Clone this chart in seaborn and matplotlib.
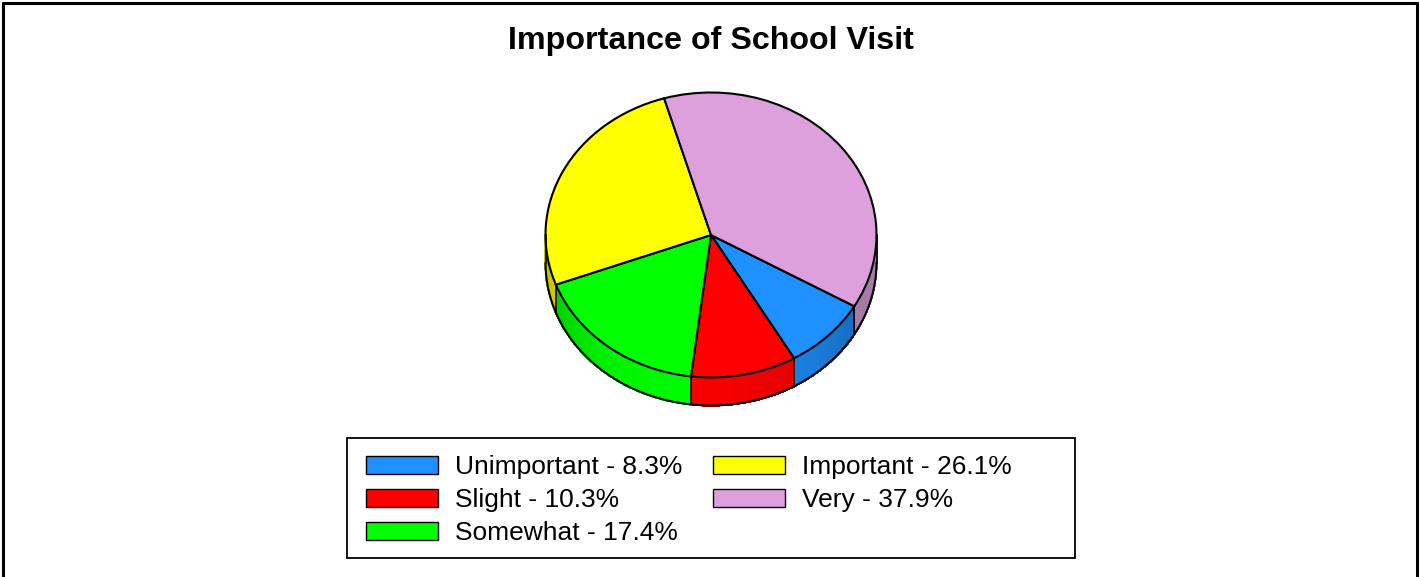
import numpy as np
import matplotlib
matplotlib.use("Agg")
import matplotlib.pyplot as plt
import seaborn as sns
from matplotlib.collections import PolyCollection
from matplotlib.patches import Rectangle
from matplotlib.lines import Line2D
from matplotlib.colors import to_rgb

# Survey responses
categories = ["Unimportant", "Slight", "Somewhat", "Important", "Very"]
percentages = [8.3, 10.3, 17.4, 26.1, 37.9]
slice_colors = ["#1E90FF", "#FF0000", "#00FF00", "#FFFF00", "#DDA0DD"]
title_text = "Importance of School Visit"

sns.set_theme(style="white")
plt.rcParams["font.family"] = ["Liberation Sans", "DejaVu Sans"]
plt.rcParams["text.color"] = "black"

W, H = 1420, 577
fig = plt.figure(figsize=(W / 100, H / 100), dpi=100)
fig.patch.set_facecolor("white")

# Pie axes spans the whole figure; limits map the unit circle to an ellipse
cx, cy = 711, 235          # centre of the pie top (pixels from top-left)
rx, ry = 165.5, 142.5      # ellipse radii in pixels
depth = 28 / ry            # thickness of the pie in data units

ax = fig.add_axes([0, 0, 1, 1])
wedges, _ = ax.pie(
    percentages,
    colors=slice_colors,
    startangle=-30,
    counterclock=False,
    radius=1,
    wedgeprops=dict(edgecolor="black", linewidth=1.5, zorder=3),
)
ax.set_aspect("auto")
ax.set_xlim(-cx / rx, (W - cx) / rx)
ax.set_ylim(-(H - cy) / ry, cy / ry)
ax.axis("off")


def shade(t_deg):
    # lighting for the side wall, brightest toward the bottom front
    t = ((t_deg + 180) % 360) - 180
    c = np.cos(np.radians(1.3 * (t + 100)))
    return 0.76 + 0.22 * max(0.0, c)


# Side wall of the visible (lower) half of each wedge
quads, quad_colors = [], []
edge_angles = []
for w, col in zip(wedges, slice_colors):
    t1, t2 = w.theta1 % 360, w.theta2 % 360
    if t2 <= t1:
        t2 += 360
    base = np.array(to_rgb(col))
    for k in (0, 360):
        a, b = max(t1, 180 + k), min(t2, 360 + k)
        if b <= a:
            continue
        ts = np.linspace(a, b, int(np.ceil((b - a) / 2)) + 2)
        for s0, s1 in zip(ts[:-1], ts[1:]):
            r0, r1 = np.radians(s0), np.radians(s1)
            quads.append([
                (np.cos(r0), np.sin(r0)), (np.cos(r1), np.sin(r1)),
                (np.cos(r1), np.sin(r1) - depth), (np.cos(r0), np.sin(r0) - depth),
            ])
            quad_colors.append(tuple(np.clip(base * shade(0.5 * (s0 + s1)), 0, 1)))
    for t in (w.theta1, w.theta2):
        if np.sin(np.radians(t)) < 0:
            edge_angles.append(t)

ax.add_collection(PolyCollection(quads, facecolors=quad_colors, edgecolors=quad_colors,
                                 linewidths=1.0, antialiaseds=False, zorder=1))

# Outline of the side wall
tb = np.radians(np.linspace(180, 360, 300))
ax.plot(np.cos(tb), np.sin(tb) - depth, color="black", lw=1.5, zorder=4)
for t in list(set(np.round(edge_angles, 6))) + [180, 360]:
    r = np.radians(t)
    ax.plot([np.cos(r), np.cos(r)], [np.sin(r), np.sin(r) - depth],
            color="black", lw=1.2, zorder=4)

# Title
fig.text(cx / W, 1 - 41 / H, title_text, ha="center", va="center",
         fontsize=23.2, fontweight="bold", color="black")

# Legend
labels = [f"{c} - {p}%" for c, p in zip(categories, percentages)]
leg = fig.legend(
    wedges, labels, ncol=2, loc="upper left",
    bbox_to_anchor=(366 / W, 1 - 455 / H),
    frameon=False, fontsize=19,
    handlelength=2.73, handleheight=0.70, handletextpad=0.64,
    columnspacing=1.17, labelspacing=0.35, borderpad=0, borderaxespad=0,
)
for h in leg.legend_handles:
    h.set_edgecolor("black")
    h.set_linewidth(1.0)
fig.patches.append(Rectangle((347 / W, 1 - 558 / H), (1075 - 347) / W, (558 - 438) / H,
                             transform=fig.transFigure, fill=False,
                             edgecolor="black", linewidth=1.3))

# Outer frame
for xs, ys in [([3, 3], [3, H + 5]), ([3, 1417], [3, 3]), ([1417, 1417], [3, H + 5])]:
    fig.lines.append(Line2D([x / W for x in xs], [1 - y / H for y in ys],
                            transform=fig.transFigure, color="black", lw=2.2))

fig.savefig("out.png", dpi=100, facecolor="white")
